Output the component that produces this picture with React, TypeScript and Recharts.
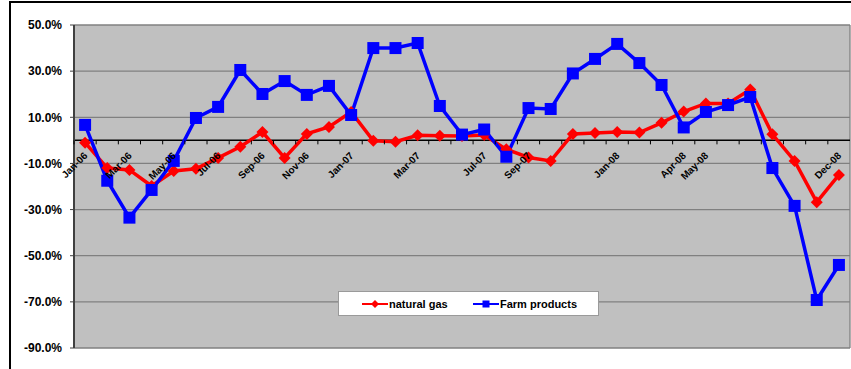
import React from 'react';
import { LineChart, Line, XAxis, YAxis, CartesianGrid, ReferenceLine } from 'recharts';

// Month labels; blank entries get a tick mark but no text
const months = [
  'Jan-06', '', 'Mar-06', '', 'May-06', '', 'Jul-06', '', 'Sep-06', '', 'Nov-06', '',
  'Jan-07', '', '', 'Mar-07', '', '', 'Jul-07', '', 'Sep-07', '', '', '',
  'Jan-08', '', '', 'Apr-08', 'May-08', '', '', '', '', '', 'Dec-08',
];

// Year-over-year change, %
const naturalGas = [
  -1, -12, -12.8, -19.8, -13.3, -12.3, -7.6, -2.8, 3.6, -7.6, 2.8, 5.8,
  12.3, -0.2, -0.6, 2.2, 2, 1.9, 2.3, -3.9, -7.4, -8.9, 2.8, 3.2,
  3.6, 3.4, 7.6, 12.5, 16, 16, 22, 2.6, -8.9, -26.8, -15,
];
const farmProducts = [
  6.7, -17.5, -33.5, -21.5, -8.9, 9.7, 14.5, 30.5, 20.1, 25.7, 19.7, 23.6,
  11, 40, 40, 42.2, 14.9, 2.5, 4.7, -7.1, 14, 13.6, 29, 35.3,
  41.8, 33.5, 24, 5.6, 12.3, 15.3, 18.8, -12, -28.4, -69.2, -54,
];

const yTicks = [-90, -70, -50, -30, -10, 10, 30, 50];

const data = months.map((_, i) => ({ i, gas: naturalGas[i], farm: farmProducts[i] }));

const FONT = "'Liberation Sans', Arial, sans-serif";
const RED = '#FF0000';
const BLUE = '#0000FF';
const W = 851;
const H = 369;
const PLOT_TOP = 25;
const PLOT_BOTTOM = 348;
const PLOT_LEFT = 74;
const PLOT_RIGHT = 850;
const Y_MIN = -90;
const Y_MAX = 50;
const ZERO_Y = PLOT_TOP + ((PLOT_BOTTOM - PLOT_TOP) * Y_MAX) / (Y_MAX - Y_MIN);
const BAND = (PLOT_RIGHT - PLOT_LEFT) / months.length;

// category labels sit on the zero line, ticks at band edges
const MonthTick = (props: any) => {
  const { x, payload } = props;
  const label = months[payload.value];
  return (
    <g>
      <line x1={x - BAND / 2} x2={x - BAND / 2} y1={ZERO_Y} y2={ZERO_Y + 4} stroke="#000" />
      {label && (
        <text
          transform={`translate(${x + 3},${ZERO_Y + 16}) rotate(-45)`}
          textAnchor="end"
          fontFamily={FONT}
          fontSize={10}
          fontWeight="bold"
          fill="#000"
        >
          {label}
        </text>
      )}
    </g>
  );
};

const Diamond = ({ cx, cy, half = 6 }: any) => {
  if (cx == null || cy == null) return null;
  return (
    <polygon
      points={`${cx},${cy - half} ${cx + half},${cy} ${cx},${cy + half} ${cx - half},${cy}`}
      fill={RED}
    />
  );
};

const Square = ({ cx, cy, side = 12 }: any) => {
  if (cx == null || cy == null) return null;
  return <rect x={cx - side / 2} y={cy - side / 2} width={side} height={side} fill={BLUE} />;
};

const LegendBox = () => (
  <div
    style={{
      position: 'absolute',
      left: 338,
      top: 291,
      width: 259,
      height: 23,
      background: '#fff',
      border: '1px solid #9a9a9a',
    }}
  >
    <svg width={259} height={23} style={{ position: 'absolute', left: 0, top: 0 }}>
      <line x1={23} x2={49} y1={12} y2={12} stroke={RED} strokeWidth={2} />
      <Diamond cx={36} cy={12} half={4} />
      <text x={50} y={16} fontFamily={FONT} fontSize={11} fontWeight="bold">natural gas</text>
      <line x1={134} x2={160} y1={12} y2={12} stroke={BLUE} strokeWidth={2} />
      <Square cx={147} cy={12} side={7} />
      <text x={161} y={16} fontFamily={FONT} fontSize={11} fontWeight="bold">Farm products</text>
    </svg>
  </div>
);

export default function App() {
  return (
    <div style={{ position: 'absolute', left: 0, top: 0, width: W, height: H, overflow: 'hidden', background: '#fff' }}>
      <div
        style={{
          position: 'absolute',
          left: 9,
          top: 1,
          width: 900,
          height: 420,
          border: '2px solid #000',
        }}
      />
      <LineChart
        width={W}
        height={H}
        data={data}
        margin={{ top: PLOT_TOP, right: W - PLOT_RIGHT, bottom: H - PLOT_BOTTOM - 1, left: 0 }}
        style={{ position: 'absolute', left: 0, top: 0 }}
      >
        <CartesianGrid
          fill="#C0C0C0"
          stroke="#808080"
          strokeWidth={1.3}
          verticalCoordinatesGenerator={({ offset }: any) => [offset.left + offset.width]}
        />
        <XAxis
          dataKey="i"
          scale="band"
          height={1}
          interval={0}
          axisLine={false}
          tickLine={false}
          tick={<MonthTick />}
        />
        <YAxis
          width={PLOT_LEFT}
          domain={[Y_MIN, Y_MAX]}
          ticks={yTicks}
          interval={0}
          tickFormatter={(v: number) => `${v.toFixed(1)}%`}
          tick={{ fontFamily: FONT, fontSize: 12, fontWeight: 'bold', fill: '#000' }}
          tickSize={4}
          tickMargin={8}
          axisLine={{ stroke: '#404040', strokeWidth: 2 }}
          tickLine={{ stroke: '#404040' }}
        />
        <ReferenceLine y={0} stroke="#000" strokeWidth={1.5} />
        <Line
          dataKey="gas"
          type="linear"
          stroke={RED}
          strokeWidth={3.5}
          dot={<Diamond />}
          activeDot={false}
          isAnimationActive={false}
        />
        <Line
          dataKey="farm"
          type="linear"
          stroke={BLUE}
          strokeWidth={3.5}
          dot={<Square />}
          activeDot={false}
          isAnimationActive={false}
        />
      </LineChart>
      <LegendBox />
    </div>
  );
}
